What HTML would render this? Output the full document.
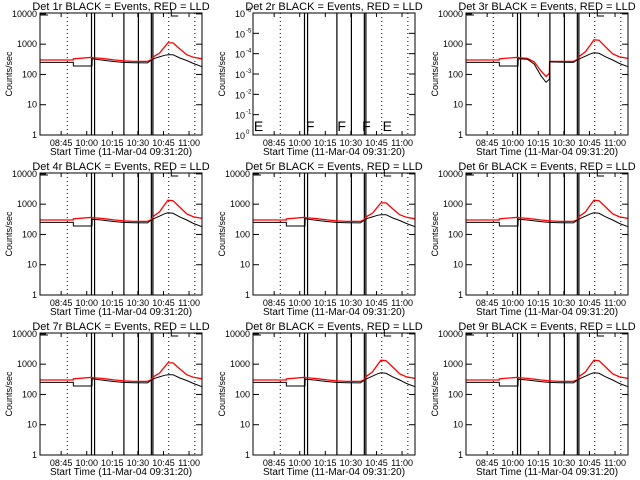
<!DOCTYPE html>
<html><head><meta charset="utf-8"><style>
html,body{margin:0;padding:0;background:#fff;}
svg{display:block;font-family:"Liberation Sans",sans-serif;}
</style></head><body>
<svg id="c" width="640" height="480" viewBox="0 0 640 480"></svg>
<script>
const times = [0,19.5,19.6,30.5,30.6,36,40,44,47,48.9,49,55,63,65,67,70,73,75,78,82,86,90,95];
const blackA = [250,250,190,190,330,300,280,265,255,250,250,245,240,290,340,380,430,450,450,350,290,230,180];
const redA   = [300,300,330,370,360,340,320,300,290,280,280,270,270,300,400,500,800,1100,1100,700,450,370,330];
const blackB = [250,250,190,190,320,300,280,265,255,250,250,245,240,290,340,400,480,520,500,380,300,230,180];
const redB   = [300,300,330,370,360,340,320,300,290,280,280,270,270,300,420,550,950,1350,1300,800,480,380,340];
const blackC = [250,250,190,190,330,320,220,90,55,70,260,255,250,300,340,400,480,520,500,380,300,230,180];
const redC   = [300,300,330,370,360,340,260,130,85,110,270,270,270,300,420,560,950,1400,1350,800,480,380,340];
const detNames = ["1r","2r","3r","4r","5r","6r","7r","8r","9r"];
const panelBlack = [blackA,null,blackC,blackB,blackA,blackB,blackA,blackB,blackB];
const panelRed   = [redA,null,redC,redB,redA,redB,redA,redB,redB];
const tickLabels = ["08:45","10:00","10:15","10:30","10:45","11:00"];
const tickTimes = [12.4,27.4,42.4,57.4,72.4,87.4];
const solidTimes = [30.2,32,49.2,57.7,65.3,66.2];
const dottedTimes = [16,75.5,90.8];
const yTicks = [1,10,100,1000,10000];
const eventLetters = ["E","F","F","F","E"];
const letterTimes = [0.5,31,49.5,64,76];

const NS="http://www.w3.org/2000/svg";
const svg=document.getElementById('c');
function mk(tag,attrs,parent){const e=document.createElementNS(NS,tag);for(const k in attrs)e.setAttribute(k,attrs[k]);(parent||svg).appendChild(e);return e;}
const W=162,H=122,TMAX=95;
for(let p=0;p<9;p++){
  const col=p%3,row=Math.floor(p/3);
  const x0=40+col*213,y0=13+row*160,yb=y0+H;
  const g=mk('g',{});
  
  
  const xs=t=>x0+t/TMAX*W;
  const lmax=4.03;
  const ys=v=>yb-Math.log10(v)/lmax*H;
  const ti=mk('text',{x:x0+W/2,y:y0-3,'text-anchor':'middle','font-size':'11'},g);
  ti.textContent='Det '+detNames[p]+' BLACK = Events, RED = LLD';
  
  
  const yt=mk('text',{x:0,y:0,'text-anchor':'middle','font-size':'9',transform:`translate(${x0-28},${y0+H/2}) rotate(-90)`},g);
  yt.textContent='Counts/sec';
  
  
  for(let i=0;i<tickLabels.length;i++){
    const tx=mk('text',{x:xs(tickTimes[i]),y:yb+11,'text-anchor':'middle','font-size':'9'},g);
    tx.textContent=tickLabels[i];
    
    
    mk('line',{x1:xs(tickTimes[i]),x2:xs(tickTimes[i]),y1:yb,y2:yb-4,stroke:'#000'},g);
    mk('line',{x1:xs(tickTimes[i]),x2:xs(tickTimes[i]),y1:y0,y2:y0+4,stroke:'#000'},g);
  }
  const xt=mk('text',{x:x0+W/2,y:yb+20,'text-anchor':'middle','font-size':'10'},g);
  xt.textContent='Start Time (11-Mar-04 09:31:20)';
  
  
  for(const t of dottedTimes){mk('line',{x1:xs(t),x2:xs(t),y1:y0,y2:yb,stroke:'#000','stroke-dasharray':'1,3'},g);}
  for(const t of solidTimes){mk('line',{x1:xs(t),x2:xs(t),y1:y0,y2:yb,stroke:'#000','stroke-width':'1.2'},g);}
  if(p===1){
    for(let i=0;i<=6;i++){
      const y=yb-i/6*H;
      mk('line',{x1:x0,x2:x0+6,y1:y,y2:y,stroke:'#000'},g);
      mk('line',{x1:x0+W,x2:x0+W-6,y1:y,y2:y,stroke:'#000'},g);
      const lt=mk('text',{x:x0-8,y:y+4,'text-anchor':'end','font-size':'9'},g);
      lt.textContent='10';
      
      
      const sp=mk('text',{x:x0-7,y:y-1,'text-anchor':'start','font-size':'6'},g);
      sp.textContent=i===0?'0':'-'+i;
    }
    for(let i=0;i<eventLetters.length;i++){
      const lt=mk('text',{x:xs(letterTimes[i]),y:yb-4,'font-size':'14'},g);
      lt.textContent=eventLetters[i];
      
      
    }
  } else {
    for(const v of yTicks){
      const y=ys(v);
      mk('line',{x1:x0,x2:x0+6,y1:y,y2:y,stroke:'#000'},g);
      mk('line',{x1:x0+W,x2:x0+W-6,y1:y,y2:y,stroke:'#000'},g);
      const lt=mk('text',{x:x0-3,y:y+3,'text-anchor':'end','font-size':'9'},g);
      lt.textContent=String(v);
      
      
    }
    const bk=panelBlack[p],rd=panelRed[p];
    const pts=arr=>arr.map((v,i)=>xs(times[i]).toFixed(1)+','+ys(v).toFixed(1)).join(' ');
    const rl=mk('polyline',{points:pts(rd),fill:'none',stroke:'#f00','stroke-width':'1.3'},g);
    
    
    const bl=mk('polyline',{points:pts(bk),fill:'none',stroke:'#000','stroke-width':'1'},g);
    
    
    mk('polyline',{points:`${x0},${y0+2} ${x0+8},${y0+2}`,fill:'none',stroke:'#000'},g);
    mk('polyline',{points:`${xs(77)},${y0-3} ${xs(77)},${y0+3} ${xs(81)},${y0+3}`,fill:'none',stroke:'#000'},g);
  }
  const fr=mk('rect',{x:x0,y:y0,width:W,height:H,fill:'none',stroke:'#000','stroke-width':'1'},g);
  
  
}
</script>
</body></html>
